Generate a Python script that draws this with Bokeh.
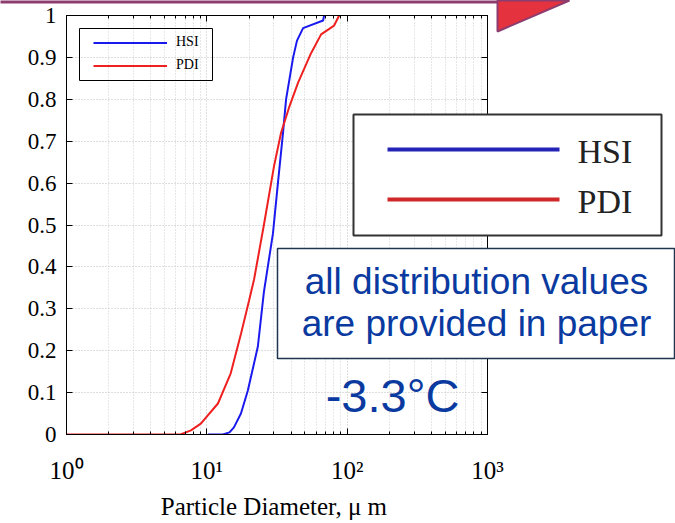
from bokeh.plotting import figure
from bokeh.models import (FixedTicker, NumeralTickFormatter, LogAxis, LinearAxis,
                          Legend, LegendItem, Range1d, LinearScale)
from bokeh.core.properties import value
from bokeh.embed import file_html
from bokeh.resources import INLINE

# Cumulative particle size distributions (diameter in micrometres, fraction)
hsi_d = [10.2, 13.0, 14.5, 15.6, 17.5, 19.6, 23.1, 25.5, 29.6, 32.1, 34.9, 36.7,
         41.2, 43.9, 48.5, 67.4, 68.5]
hsi_v = [0.0, 0.0, 0.005, 0.017, 0.05, 0.105, 0.21, 0.34, 0.48, 0.60, 0.72, 0.80,
         0.90, 0.94, 0.97, 0.988, 1.0]

pdi_d = [1.0, 6.5, 7.7, 9.06, 12.0, 14.8, 17.5, 20.0, 21.7, 25.5, 30.1, 33.8,
         38.5, 44.7, 55.3, 65.2, 80.7, 87.7]
pdi_v = [0.0, 0.0, 0.01, 0.026, 0.074, 0.146, 0.24, 0.32, 0.37, 0.50, 0.64, 0.72,
         0.78, 0.84, 0.91, 0.955, 0.976, 1.0]

series_names = ["HSI", "PDI"]
x_major = [1, 10, 100, 1000]
x_labels = {1: "10\u2070", 10: "10\u00b9", 100: "10\u00b2", 1000: "10\u00b3"}
x_minor = [m * 10 ** k for k in range(3) for m in range(2, 10)]
y_ticks = [i / 10 for i in range(11)]
note_lines = ["all distribution values", "are provided in paper"]
temp_text = "-3.3\u00b0C"

BLUE = "#1a1aee"
RED = "#ee2020"
NOTE_BLUE = "#0a3aa0"
SERIF = "Liberation Serif"
SANS = "Liberation Sans"

L, T, R, B = 66, 15, 487, 434   # frame edges in page pixels
W, H = 675, 523

p = figure(width=W, height=H, x_axis_type="log", x_range=(1, 1000), y_range=(0, 1),
           output_backend="svg", toolbar_location=None,
           min_border_left=L, min_border_right=W - R, min_border_top=T,
           min_border_bottom=H - B)
p.background_fill_color = "white"
p.border_fill_color = "white"
p.outline_line_color = "black"
p.outline_line_width = 1

xt = FixedTicker(ticks=x_major, minor_ticks=x_minor)
yt = FixedTicker(ticks=y_ticks)

xa = p.xaxis[0]
xa.ticker = xt
xa.major_label_overrides = x_labels
xa.axis_label = "Particle Diameter,  \u03bc m"
ya = p.yaxis[0]
ya.ticker = yt
ya.formatter = NumeralTickFormatter(format="0.[0]")

for ax in (xa, ya):
    ax.axis_line_color = "black"
    ax.major_tick_in = 6
    ax.major_tick_out = 0
    ax.minor_tick_in = 3
    ax.minor_tick_out = 0
    ax.major_label_text_font = SERIF
    ax.major_label_text_font_size = "23px"
    ax.major_label_text_color = "black"
    ax.axis_label_text_font = SERIF
    ax.axis_label_text_font_size = "25px"
    ax.axis_label_text_font_style = "normal"
    ax.axis_label_text_color = "black"
xa.major_label_text_font_size = "25px"
xa.major_label_standoff = 22
xa.axis_label_standoff = 6
ya.major_label_standoff = 10

# tick marks on the top and right edges of the box
top_ax = LogAxis(ticker=xt, major_label_text_font_size="1px", major_label_text_alpha=0,
                 major_tick_in=6, major_tick_out=0, minor_tick_in=3, minor_tick_out=0,
                 major_label_standoff=0, axis_line_color="black")
right_ax = LinearAxis(ticker=yt, major_label_text_font_size="1px",
                      major_label_text_alpha=0, major_tick_in=6,
                      major_tick_out=0, minor_tick_out=0, minor_tick_in=0,
                      major_label_standoff=0, axis_line_color="black")
p.add_layout(top_ax, "above")
p.add_layout(right_ax, "right")

p.xgrid.ticker = xt
p.ygrid.ticker = yt
for g in (p.xgrid[0], p.ygrid[0]):
    g.grid_line_color = "#bdbdbd"
    g.grid_line_dash = "1 2"
    g.grid_line_width = 1
p.xgrid.minor_grid_line_color = "#cfcfcf"
p.xgrid.minor_grid_line_dash = "1 2"

r_hsi = p.line(hsi_d, hsi_v, line_color=BLUE, line_width=2)
r_pdi = p.line(pdi_d, pdi_v, line_color=RED, line_width=2)

# small legend inside the axes
small_leg = Legend(items=[LegendItem(label=series_names[0], renderers=[r_hsi]),
                          LegendItem(label=series_names[1], renderers=[r_pdi])],
                   location=(93 - L, B - 76.5), padding=0, spacing=0, margin=0,
                   glyph_width=74, glyph_height=23, label_height=23,
                   label_standoff=9, label_text_font=SERIF,
                   label_text_font_size="14px", label_text_color="black",
                   border_line_alpha=0, background_fill_alpha=0)
p.add_layout(small_leg, "center")

# page-pixel coordinate system for the callouts drawn over the chart
p.extra_x_ranges = {"px": Range1d(L, R)}
p.extra_y_ranges = {"px": Range1d(B, T)}
p.extra_x_scales = {"px": LinearScale()}
p.extra_y_scales = {"px": LinearScale()}
OV = dict(x_range_name="px", y_range_name="px", level="overlay")

# small legend frame
p.quad(left=[79], right=[212], top=[28], bottom=[80], fill_alpha=0,
       line_color="black", line_width=1, **OV)

# enlarged legend
p.quad(left=[353], right=[661], top=[114], bottom=[235], fill_color="white",
       line_color="#333333", line_width=2, **OV)
p.segment(x0=[387, 387], y0=[149, 199], x1=[559, 559], y1=[149, 199],
          line_color=["#2424b8", "#d02828"], line_width=4, **OV)
p.text(x=[577, 577], y=[151, 201], text=series_names, text_font=value(SERIF),
       text_font_size=value("34px"), text_color="#222222",
       text_baseline="middle", text_align="left", **OV)

# note box
p.quad(left=[277], right=[674], top=[248], bottom=[358], fill_color="white",
       line_color="#1f3550", line_width=1.5, **OV)
p.text(x=[476, 476], y=[281, 323], text=note_lines, text_font=value(SANS),
       text_font_size=value("37px"), text_color=NOTE_BLUE,
       text_baseline="middle", text_align="center", **OV)
p.text(x=[392], y=[395], text=[temp_text], text_font=value(SANS),
       text_font_size=value("47px"), text_color=NOTE_BLUE,
       text_baseline="middle", text_align="center", **OV)

# header band and arrow tip along the top edge
p.quad(left=[0], right=[498], top=[0], bottom=[3], fill_color="#8c3c6e",
       line_alpha=0, **OV)
p.patch(x=[497, 569, 497], y=[0, 0, 31], fill_color="#e4323f",
        line_color="#8c3c6e", line_width=2, **OV)

open("out.html", "w").write(file_html(p, INLINE))
